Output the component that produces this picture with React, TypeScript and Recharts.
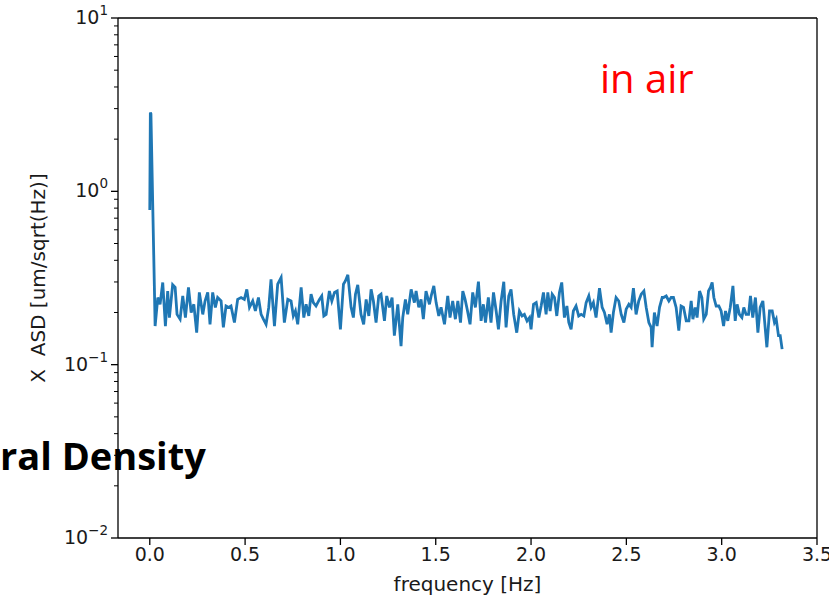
import React from "react";
import { LineChart, Line, XAxis, YAxis, ReferenceLine } from "recharts";

const freq: number[] = [
  0, 0.003, 0.006, 0.024, 0.028, 0.042, 0.054, 0.068, 0.082, 0.094, 0.103, 0.12, 0.133, 0.143, 0.159, 0.173, 0.187, 0.203, 0.217, 0.231, 0.246, 0.26, 0.278, 0.29, 0.304, 0.316, 0.33, 0.344, 0.356, 0.374, 0.386, 0.4, 0.414, 0.426, 0.444, 0.461, 0.479, 0.496, 0.509, 0.523, 0.54, 0.554, 0.57, 0.584, 0.596, 0.61, 0.624, 0.636,
  0.654, 0.671, 0.689, 0.706, 0.724, 0.741, 0.753, 0.764, 0.776, 0.794, 0.808, 0.82, 0.834, 0.846, 0.858, 0.872, 0.89, 0.902, 0.913, 0.925, 0.942, 0.955, 0.969, 0.983, 1.0, 1.016, 1.026, 1.039, 1.056, 1.068, 1.079, 1.091, 1.108, 1.122, 1.135, 1.149, 1.161, 1.173, 1.187, 1.201, 1.213, 1.231, 1.243, 1.257, 1.271, 1.283, 1.301, 1.318,
  1.327, 1.341, 1.353, 1.371, 1.388, 1.397, 1.411, 1.423, 1.435, 1.449, 1.467, 1.476, 1.49, 1.502, 1.516, 1.528, 1.546, 1.563, 1.575, 1.589, 1.603, 1.616, 1.63, 1.642, 1.654, 1.665, 1.68, 1.694, 1.708, 1.724, 1.738, 1.75, 1.761, 1.776, 1.79, 1.803, 1.817, 1.829, 1.843, 1.857, 1.869, 1.883, 1.895, 1.909, 1.925, 1.939, 1.953, 1.965, 1.979, 1.992,
  2.0, 2.013, 2.027, 2.041, 2.053, 2.065, 2.079, 2.088, 2.1, 2.111, 2.123, 2.135, 2.149, 2.161, 2.175, 2.188, 2.198, 2.21, 2.222, 2.236, 2.25, 2.263, 2.277, 2.289, 2.303, 2.315, 2.327, 2.341, 2.359, 2.373, 2.385, 2.399, 2.411, 2.42, 2.432, 2.446, 2.46, 2.473, 2.487, 2.499, 2.513, 2.525, 2.537, 2.551, 2.565, 2.578, 2.592, 2.604, 2.618, 2.63, 2.635, 2.647, 2.661, 2.674, 2.688,
  2.695, 2.709, 2.723, 2.735, 2.747, 2.761, 2.775, 2.787, 2.8, 2.814, 2.828, 2.84, 2.849, 2.861, 2.871, 2.884, 2.896, 2.906, 2.919, 2.931, 2.941, 2.95, 2.959, 2.971, 2.985, 2.997, 3.01, 3.02, 3.032, 3.045, 3.059, 3.071, 3.081, 3.093, 3.106, 3.116, 3.128, 3.141, 3.151, 3.163, 3.177, 3.19, 3.202, 3.216, 3.225, 3.237, 3.251, 3.265, 3.277, 3.286, 3.298, 3.307, 3.317,
];

const asd: number[] = [
  0.78, 2.85, 2.8, 0.285, 0.167, 0.244, 0.223, 0.298, 0.167, 0.266, 0.187, 0.289, 0.279, 0.195, 0.183, 0.249, 0.187, 0.279, 0.2, 0.223, 0.153, 0.261, 0.195, 0.233, 0.261, 0.171, 0.261, 0.214, 0.244, 0.233, 0.164, 0.218, 0.214, 0.218, 0.175, 0.238, 0.244, 0.238, 0.272, 0.214, 0.233, 0.204, 0.244, 0.195, 0.183, 0.171, 0.214, 0.311,
  0.167, 0.291, 0.318, 0.175, 0.238, 0.233, 0.191, 0.204, 0.171, 0.279, 0.187, 0.223, 0.191, 0.255, 0.228, 0.218, 0.238, 0.249, 0.191, 0.195, 0.266, 0.233, 0.261, 0.266, 0.16, 0.291, 0.304, 0.33, 0.214, 0.187, 0.255, 0.289, 0.195, 0.171, 0.238, 0.191, 0.272, 0.233, 0.175, 0.249, 0.255, 0.179, 0.249, 0.214, 0.244, 0.147, 0.223, 0.128,
  0.187, 0.238, 0.195, 0.272, 0.228, 0.266, 0.214, 0.238, 0.183, 0.266, 0.223, 0.249, 0.285, 0.228, 0.191, 0.214, 0.171, 0.249, 0.187, 0.233, 0.183, 0.233, 0.175, 0.266, 0.238, 0.209, 0.171, 0.261, 0.214, 0.301, 0.179, 0.223, 0.175, 0.244, 0.175, 0.261, 0.204, 0.16, 0.233, 0.301, 0.164, 0.249, 0.272, 0.195, 0.153, 0.204, 0.191, 0.195, 0.179, 0.187,
  0.16, 0.223, 0.228, 0.187, 0.218, 0.261, 0.195, 0.261, 0.204, 0.255, 0.244, 0.191, 0.261, 0.298, 0.187, 0.218, 0.175, 0.16, 0.204, 0.218, 0.191, 0.195, 0.191, 0.228, 0.249, 0.214, 0.228, 0.187, 0.276, 0.214, 0.2, 0.171, 0.195, 0.153, 0.2, 0.244, 0.233, 0.195, 0.175, 0.209, 0.223, 0.214, 0.276, 0.195, 0.233, 0.255, 0.266, 0.214, 0.175, 0.164, 0.126, 0.2, 0.167, 0.214, 0.244,
  0.244, 0.249, 0.233, 0.244, 0.244, 0.214, 0.157, 0.218, 0.214, 0.179, 0.179, 0.233, 0.183, 0.214, 0.187, 0.266, 0.244, 0.183, 0.195, 0.266, 0.279, 0.298, 0.244, 0.218, 0.218, 0.204, 0.167, 0.204, 0.179, 0.214, 0.285, 0.179, 0.223, 0.195, 0.187, 0.214, 0.195, 0.195, 0.249, 0.187, 0.244, 0.153, 0.214, 0.233, 0.179, 0.126, 0.204, 0.204, 0.175, 0.183, 0.147, 0.147, 0.123,
];

const xTicks: number[] = [0, 0.5, 1, 1.5, 2, 2.5, 3, 3.5];
const yMajorTicks: number[] = [0.01, 0.1, 1, 10];
const yMinorTicks: number[] = [
  0.02, 0.03, 0.04, 0.05, 0.06, 0.07, 0.08, 0.09,
  0.2, 0.3, 0.4, 0.5, 0.6, 0.7, 0.8, 0.9,
  2, 3, 4, 5, 6, 7, 8, 9,
];
const yExponents: string[] = ["−2", "−1", "0", "1"];

const xLabel = "frequency [Hz]";
const yLabel = "X  ASD [um/sqrt(Hz)]";
const noteText = "in air";
const cutTitle = "ral Density";

const data = freq.map((f, i) => ({ f, v: asd[i] }));
const yAllTicks = [...yMajorTicks, ...yMinorTicks].sort((a, b) => a - b);

const FONT = "DejaVu Sans";
const FS = 19;
const TXT = "#1a1a1a";

const XTick = (props: any) => {
  const { x, y, payload } = props;
  return (
    <g>
      <line x1={x} x2={x} y1={y} y2={y + 7} stroke="#000" strokeWidth={1.3} />
      <text x={x} y={y + 23} textAnchor="middle" fontFamily={FONT} fontSize={FS} fill={TXT}>
        {Number(payload.value).toFixed(1)}
      </text>
    </g>
  );
};

const YTick = (props: any) => {
  const { x, y, payload } = props;
  const val = payload.value;
  const mi = yMajorTicks.findIndex((t) => Math.abs(t - val) / t < 1e-6);
  if (mi < 0) {
    return <line x1={x - 4} x2={x} y1={y} y2={y} stroke="#000" strokeWidth={1} />;
  }
  return (
    <g>
      <line x1={x - 7} x2={x} y1={y} y2={y} stroke="#000" strokeWidth={1.3} />
      <text x={x - 10} y={y + 6} textAnchor="end" fontFamily={FONT} fontSize={FS} fill={TXT}>
        <tspan>10</tspan>
        <tspan dy={-9} fontSize={13.5}>{yExponents[mi]}</tspan>
      </text>
    </g>
  );
};

export default function App() {
  return (
    <div style={{ position: "absolute", left: 0, top: 0, width: 829, height: 600, background: "#fff" }}>
      <LineChart
        width={829}
        height={600}
        data={data}
        margin={{ top: 18, right: 12, bottom: 0, left: 0 }}
      >
        <XAxis
          dataKey="f"
          type="number"
          domain={[-0.1667, 3.5]}
          ticks={xTicks}
          allowDataOverflow
          height={62}
          tickLine={false}
          tickSize={0}
          tickMargin={0}
          tick={<XTick />}
          axisLine={{ stroke: "#000", strokeWidth: 1.3 }}
          label={{
            content: (p: any) => {
              const vb = p.viewBox;
              return (
                <text
                  x={vb.x + vb.width / 2}
                  y={vb.y + 53}
                  textAnchor="middle"
                  fontFamily={FONT}
                  fontSize={FS + 1}
                  fill={TXT}
                >
                  {xLabel}
                </text>
              );
            },
          }}
        />
        <YAxis
          dataKey="v"
          scale="log"
          domain={[0.01, 10]}
          ticks={yAllTicks}
          allowDataOverflow
          width={118}
          tickLine={false}
          tickSize={0}
          tickMargin={0}
          tick={<YTick />}
          interval={0}
          axisLine={{ stroke: "#000", strokeWidth: 1.3 }}
          label={{
            content: (p: any) => {
              const vb = p.viewBox;
              const cx = vb.x + 38;
              const cy = vb.y + vb.height / 2;
              return (
                <text
                  x={cx}
                  y={cy}
                  transform={`rotate(-90, ${cx}, ${cy})`}
                  textAnchor="middle"
                  dominantBaseline="central"
                  fontFamily={FONT}
                  fontSize={FS + 1}
                  fill={TXT}
                  style={{ whiteSpace: "pre" }}
                >
                  {yLabel}
                </text>
              );
            },
          }}
        />
        <ReferenceLine y={10} stroke="#000" strokeWidth={1.3} ifOverflow="extendDomain" />
        <ReferenceLine x={3.5} stroke="#000" strokeWidth={1.3} ifOverflow="extendDomain" />
        <Line
          type="linear"
          dataKey="v"
          stroke="#1f77b4"
          strokeWidth={2.8}
          dot={false}
          isAnimationActive={false}
        />
      </LineChart>
      <svg
        width={829}
        height={600}
        style={{ position: "absolute", left: 0, top: 0, pointerEvents: "none" }}
      >
        <text x={600} y={93} fill="#ff0000" fontFamily="Open Sans" fontSize={40}>
          {noteText}
        </text>
        <text x={0} y={470} fill="#000" fontFamily="Open Sans" fontWeight="bold" fontSize={38}>
          {cutTitle}
        </text>
      </svg>
    </div>
  );
}
